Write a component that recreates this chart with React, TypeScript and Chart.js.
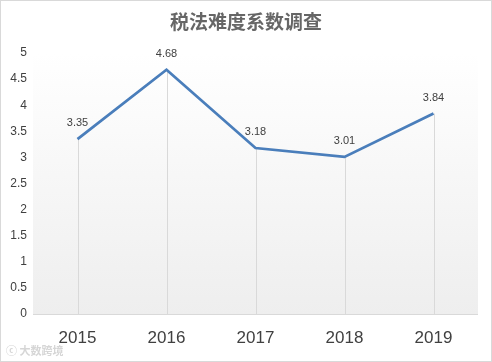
import React, { useEffect, useRef } from "react";
import { Chart, registerables } from "chart.js";

Chart.register(...registerables);

const TITLE = "税法难度系数调查";
const WATERMARK = "大数跨境";
const years = ["2015", "2016", "2017", "2018", "2019"];
const values = [3.35, 4.68, 3.18, 3.01, 3.84];
const yMin = 0;
const yMax = 5;
const yStep = 0.5;

const FONT = "'Liberation Sans', Arial, sans-serif";

const decorPlugin = {
  id: "decor",
  beforeDatasetsDraw(chart: any) {
    const { ctx, chartArea } = chart;
    ctx.save();
    const g = ctx.createLinearGradient(0, chartArea.top, 0, chartArea.bottom);
    g.addColorStop(0, "#ffffff");
    g.addColorStop(1, "#eeeeee");
    ctx.fillStyle = g;
    ctx.fillRect(chartArea.left, chartArea.top, chartArea.right - chartArea.left, chartArea.bottom - chartArea.top);
    // drop lines
    const meta = chart.getDatasetMeta(0);
    const yScale = chart.scales.y;
    const base = yScale.getPixelForValue(yMin);
    ctx.strokeStyle = "#d9d9d9";
    ctx.lineWidth = 1;
    meta.data.forEach((pt: any) => {
      const x = Math.round(pt.x) + 0.5;
      ctx.beginPath();
      ctx.moveTo(x, pt.y);
      ctx.lineTo(x, base);
      ctx.stroke();
    });
    // bottom axis line
    ctx.beginPath();
    ctx.moveTo(chartArea.left, Math.round(base) + 0.5);
    ctx.lineTo(chartArea.right, Math.round(base) + 0.5);
    ctx.stroke();
    ctx.restore();
  },
  afterDraw(chart: any) {
    const { ctx, width, height } = chart;
    ctx.save();
    // data labels
    const meta = chart.getDatasetMeta(0);
    ctx.fillStyle = "#404040";
    ctx.font = `11px ${FONT}`;
    ctx.textAlign = "center";
    ctx.textBaseline = "alphabetic";
    meta.data.forEach((pt: any, i: number) => {
      ctx.fillText(String(values[i]), pt.x, pt.y - 13);
    });
    // title
    ctx.fillStyle = "#666666";
    ctx.font = `bold 19px 'Noto Sans CJK SC', sans-serif`;
    ctx.textBaseline = "middle";
    ctx.fillText(TITLE, width / 2, 22);
    // watermark
    ctx.fillStyle = "#d6d6d6";
    ctx.font = `bold 11px 'Noto Sans CJK SC', sans-serif`;
    ctx.textAlign = "left";
    ctx.fillText("ⓒ " + WATERMARK, 6, 351);
    // outer border
    ctx.strokeStyle = "#d9d9d9";
    ctx.lineWidth = 1;
    ctx.strokeRect(0.5, 0.5, width - 1, height - 1);
    ctx.restore();
  },
};

export default function App() {
  const ref = useRef<HTMLCanvasElement | null>(null);
  useEffect(() => {
    document.body.style.margin = "0";
    const canvas = ref.current!;
    const chart = new Chart(canvas, {
      type: "line",
      data: {
        labels: years,
        datasets: [
          {
            data: values,
            borderColor: "#4a7ebb",
            borderWidth: 2.75,
            pointRadius: 0,
            tension: 0,
            fill: false,
          },
        ],
      },
      options: {
        animation: false,
        responsive: false,
        maintainAspectRatio: false,
        layout: { padding: { top: 53, right: 14, left: 0, bottom: 0 } },
        plugins: { legend: { display: false }, title: { display: false }, tooltip: { enabled: false } },
        scales: {
          x: {
            offset: true,
            grid: { display: false, drawTicks: false },
            border: { display: false },
            ticks: { color: "#404040", font: { family: FONT, size: 17 }, padding: 14 },
            afterFit(scale: any) {
              scale.height = 48;
            },
          },
          y: {
            min: yMin,
            max: yMax,
            grid: { display: false, drawTicks: false },
            border: { display: false },
            ticks: {
              stepSize: yStep,
              color: "#404040",
              font: { family: FONT, size: 12 },
              padding: 6,
              callback: (v: any) => String(Number(v)),
            },
            afterFit(scale: any) {
              scale.width = 33;
            },
          },
        },
      },
      plugins: [decorPlugin],
    });
    return () => chart.destroy();
  }, []);
  return <canvas ref={ref} width={492} height={362} style={{ display: "block" }} />;
}
